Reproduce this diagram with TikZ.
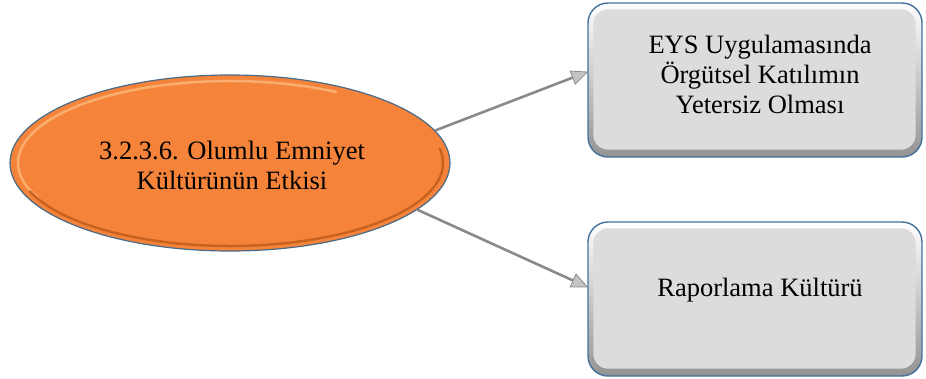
\documentclass[tikz,border=0pt]{standalone}
\usepackage{fontspec}
\setmainfont{LiberationSerif}[Extension=.ttf, UprightFont=*-Regular, BoldFont=*-Bold]
\usetikzlibrary{shapes.geometric,arrows.meta,calc}
\definecolor{orangefill}{HTML}{F5843A}
\definecolor{orangelight}{HTML}{F9AE6E}
\definecolor{orangedark}{HTML}{C9621F}
\definecolor{rimblue}{HTML}{4A6A88}
\definecolor{boxfill}{HTML}{DCDBDD}
\definecolor{boxrim}{HTML}{41719C}
\definecolor{linkgray}{HTML}{8A8A8A}
\definecolor{headgray}{HTML}{C4C4C4}
\tikzset{
  x=1pt, y=-1pt,
  txt/.style={font=\rmfamily\fontsize{26.5}{30}\selectfont, align=center, inner sep=0pt},
  bevelbox/.style={rectangle, rounded corners=20pt, minimum width=334pt, minimum height=154pt,
    draw=boxrim, line width=1.4pt, top color=white, bottom color=gray!85},
  link/.style={draw=linkgray, line width=2.6pt,
    -{Triangle[length=17pt,width=15pt,fill=headgray,line width=0.8pt]}, shorten >=-1pt}
}
\begin{document}
\begin{tikzpicture}
\useasboundingbox (0,0) rectangle (926,378);

% central ellipse with a soft bevel
\node[ellipse, minimum width=440pt, minimum height=176pt, fill=orangefill,
      draw=rimblue, line width=1.2pt] (e) at (230,163) {};
\draw[orangelight, line width=2.5pt, line cap=round]
  (230,163) ++(60:212pt and 82pt) arc[start angle=60, end angle=205, x radius=212pt, y radius=82pt];
\draw[orangedark, line width=2.5pt, line cap=round]
  (230,163) ++(10:213pt and 83pt) arc[start angle=10, end angle=-160, x radius=213pt, y radius=83pt];
\node[txt] (et) at (232,165) {3.2.3.6. Olumlu Emniyet\\Kültürünün Etkisi};

% right-hand boxes
\node[bevelbox] (b1) at (755,80) {};
\fill[boxfill, rounded corners=15pt] ($(b1.south west)+(6,-8)$) rectangle ($(b1.north east)+(-7,7)$);
\node[txt] (t1) at (760,74) {EYS Uygulamasında\\Örgütsel Katılımın\\Yetersiz Olması};

\node[bevelbox] (b2) at (755,299) {};
\fill[boxfill, rounded corners=15pt] ($(b2.south west)+(6,-8)$) rectangle ($(b2.north east)+(-7,7)$);
\node[txt] (t2) at (760,290) {Raporlama Kültürü};

% connectors
\coordinate (a1) at ($(b1.west)+(0,-8)$);
\coordinate (a2) at ($(b2.west)+(0,-12)$);
\draw[link] (e.9) -- (a1);
\draw[link] (e.-14) -- (a2);
\end{tikzpicture}
\end{document}
